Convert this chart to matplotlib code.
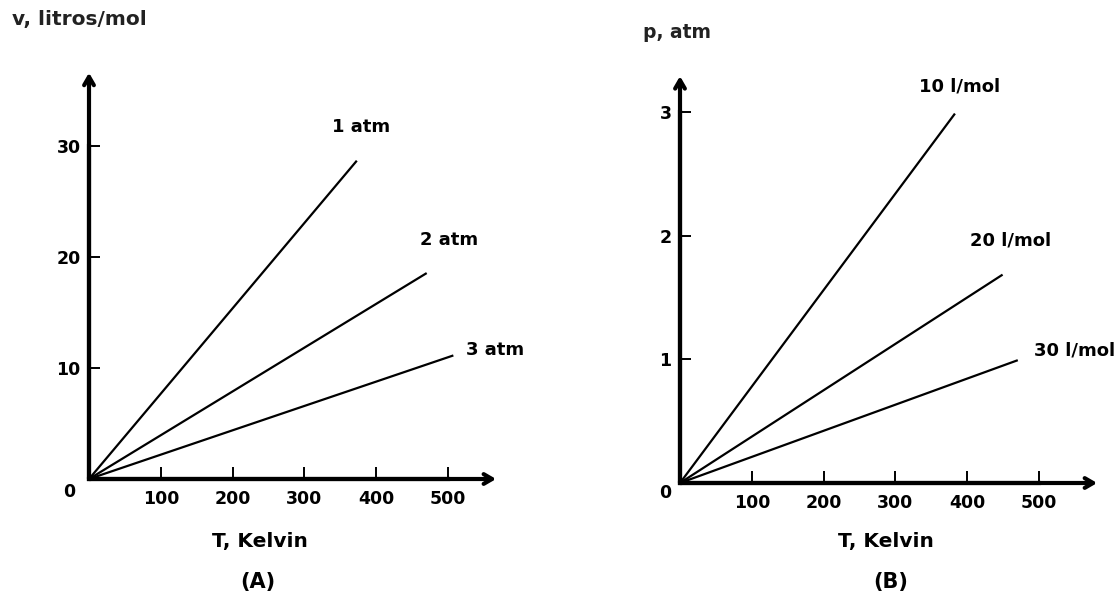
import matplotlib
matplotlib.use("Agg")
import matplotlib.pyplot as plt

# ---- data ----
# Panel A: v (litros/mol) vs T (Kelvin), one line per pressure
labels_A = ["1 atm", "2 atm", "3 atm"]
T_A = [[0, 372], [0, 469], [0, 506]]
v_A = [[0, 28.6], [0, 18.5], [0, 11.1]]
xticks = [100, 200, 300, 400, 500]
yticks_A = [10, 20, 30]

# Panel B: p (atm) vs T (Kelvin), one line per molar volume
labels_B = ["10 l/mol", "20 l/mol", "30 l/mol"]
T_B = [[0, 382], [0, 448], [0, 469]]
p_B = [[0, 2.98], [0, 1.68], [0, 0.99]]
yticks_B = [1, 2, 3]

W, H = 1120, 606
fig = plt.figure(figsize=(W / 100, H / 100), dpi=100)
FONT = "DejaVu Sans"


def px_axes(x0, x1, ytop, ybot):
    return fig.add_axes([x0 / W, (H - ybot) / H, (x1 - x0) / W, (ybot - ytop) / H])


def setup(ax, xmax_arrow, ymax_arrow, yticks):
    for s in ("top", "right"):
        ax.spines[s].set_visible(False)
    for s in ("left", "bottom"):
        ax.spines[s].set_linewidth(3.0)
        ax.spines[s].set_color("black")
    ax.set_xticks(xticks)
    ax.set_xticklabels([str(t) for t in xticks])
    ax.set_yticks(yticks)
    ax.set_yticklabels([str(t) for t in yticks])
    ax.tick_params(axis="x", direction="in", length=9, width=1.4, pad=8,
                   labelsize=12.5)
    ax.tick_params(axis="y", direction="in", length=8, width=1.4, pad=6,
                   labelsize=12.5)
    for lab in ax.get_xticklabels() + ax.get_yticklabels():
        lab.set_fontweight("bold")
        lab.set_family(FONT)
    ax.annotate("", xy=(0, ymax_arrow), xytext=(0, 0),
                arrowprops=dict(arrowstyle="->,head_length=0.6,head_width=0.35",
                                lw=3.0, color="black", shrinkA=0, shrinkB=0),
                annotation_clip=False)
    ax.annotate("", xy=(xmax_arrow, 0), xytext=(0, 0),
                arrowprops=dict(arrowstyle="->,head_length=0.6,head_width=0.35",
                                lw=3.0, color="black", shrinkA=0, shrinkB=0),
                annotation_clip=False)


# ---- Panel A ----
axA = px_axes(89, 448, 146, 479)
axA.set_xlim(0, 500)
axA.set_ylim(0, 30)
setup(axA, 567, 36.6, yticks_A)
for T, v in zip(T_A, v_A):
    axA.plot(T, v, color="black", lw=1.6, clip_on=False)
for lab, (x, y) in zip(labels_A, [(379, 31.7), (501, 21.5), (565, 11.6)]):
    axA.text(x, y, lab, ha="center", va="center", fontsize=13,
             fontweight="bold", family=FONT, clip_on=False)
axA.annotate("0", xy=(0, 0), xytext=(-14, -9.5), textcoords="offset points",
             ha="center", va="center", fontsize=12.5, fontweight="bold",
             family=FONT, annotation_clip=False)

# ---- Panel B ----
axB = px_axes(680, 1039, 112, 483)
axB.set_xlim(0, 500)
axB.set_ylim(0, 3)
setup(axB, 581, 3.29, yticks_B)
for T, p in zip(T_B, p_B):
    axB.plot(T, p, color="black", lw=1.6, clip_on=False)
for lab, (x, y) in zip(labels_B, [(390, 3.21), (461, 1.96), (549, 1.07)]):
    axB.text(x, y, lab, ha="center", va="center", fontsize=13,
             fontweight="bold", family=FONT, clip_on=False)
axB.annotate("0", xy=(0, 0), xytext=(-11, -7.5), textcoords="offset points",
             ha="center", va="center", fontsize=12.5, fontweight="bold",
             family=FONT, annotation_clip=False)


def ftext(x, y, s, size, ha="center", color="black"):
    fig.text(x / W, 1 - y / H, s, ha=ha, va="center", fontsize=size,
             fontweight="bold", family=FONT, color=color)


ftext(12, 20, "v, litros/mol", 14.5, ha="left", color="#222222")
ftext(643, 32, "p, atm", 13.5, ha="left", color="#222222")
ftext(260, 541, "T, Kelvin", 14.5)
ftext(886, 541, "T, Kelvin", 14.5)
ftext(258, 582, "(A)", 15)
ftext(891, 582, "(B)", 15)

fig.savefig("out.png", dpi=100)
